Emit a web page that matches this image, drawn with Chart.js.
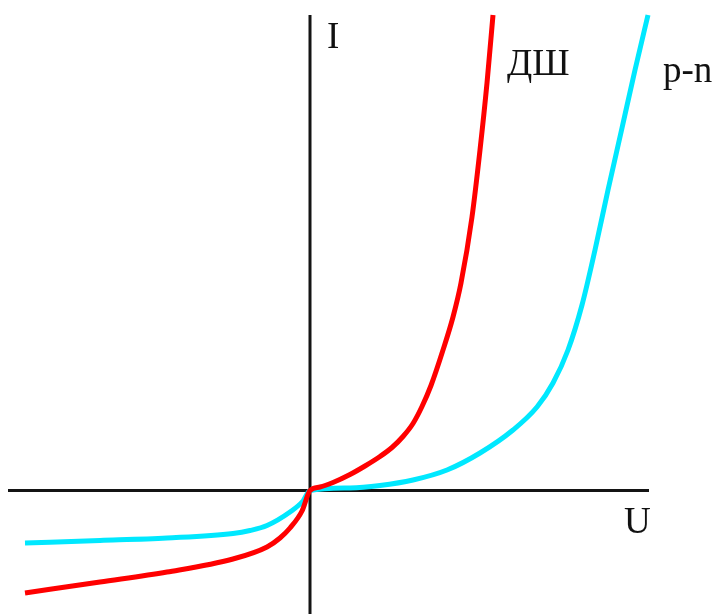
<!DOCTYPE html>
<html>
<head>
<meta charset="utf-8">
<title>ВАХ: диод Шоттки и p-n переход</title>
<script src="https://cdn.jsdelivr.net/npm/chart.js@4/dist/chart.umd.min.js"></script>
<style>
  html, body { margin: 0; padding: 0; background: #fff; }
  #wrap { width: 713px; height: 614px; }
</style>
</head>
<body>
<div id="wrap"><canvas id="ivChart" width="713" height="614"></canvas></div>
<script>
// Schottky diode (ДШ) I-V curve, arbitrary units
const schottkyU = [-2.85, -2.10, -1.43, -0.77, -0.43, -0.30, -0.20, -0.08, 0,
  0.10, 0.23, 0.40, 0.55, 0.70, 0.82, 0.93, 1.03, 1.12, 1.21, 1.33, 1.43, 1.51, 1.62, 1.70, 1.77, 1.83];
const schottkyI = [-1.025, -0.915, -0.815, -0.685, -0.565, -0.475, -0.375, -0.205, 0,
  0.035, 0.08, 0.16, 0.245, 0.34, 0.43, 0.54, 0.67, 0.84, 1.05, 1.405, 1.735, 2.075, 2.735, 3.405, 4.075, 4.755];

// p-n junction I-V curve
const pnU = [-2.85, -2.10, -1.43, -0.77, -0.60, -0.43, -0.20, -0.07, 0,
  0.40, 0.70, 1.03, 1.37, 1.70, 2.03, 2.27, 2.43, 2.58, 2.72, 2.85, 2.98, 3.12, 3.25, 3.38];
const pnI = [-0.525, -0.50, -0.475, -0.43, -0.40, -0.35, -0.215, -0.105, 0,
  0.025, 0.05, 0.105, 0.205, 0.375, 0.605, 0.835, 1.075, 1.405, 1.855, 2.405, 3.005, 3.625, 4.205, 4.755];

const seriesNames = ["ДШ", "p-n"];

const toPoints = (xs, ys) => xs.map((x, i) => ({ x: x, y: ys[i] }));

// axis extents and captions, in data units
const axisU = { from: -3.02, to: 3.39 };
const axisI = { from: -1.3, to: 4.755 };
const captions = [
  { text: "I", u: 0.17, i: 4.425 },
  { text: seriesNames[0], u: 1.97, i: 4.155 },
  { text: seriesNames[1], u: 3.53, i: 4.085 },
  { text: "U", u: 3.14, i: -0.425 },
];

// draws the crossing axes under the curves and the captions on top
const axesPlugin = {
  id: "crossAxes",
  beforeDatasetsDraw(chart) {
    const { ctx, scales } = chart;
    const x = scales.x, y = scales.y;
    ctx.save();
    ctx.strokeStyle = "#141414";
    ctx.lineWidth = 3;
    ctx.beginPath();
    ctx.moveTo(x.getPixelForValue(axisU.from), y.getPixelForValue(0));
    ctx.lineTo(x.getPixelForValue(axisU.to), y.getPixelForValue(0));
    ctx.moveTo(x.getPixelForValue(0), y.getPixelForValue(axisI.from));
    ctx.lineTo(x.getPixelForValue(0), y.getPixelForValue(axisI.to));
    ctx.stroke();
    ctx.restore();
  },
  afterDatasetsDraw(chart) {
    const { ctx, scales } = chart;
    ctx.save();
    ctx.fillStyle = "#111";
    ctx.font = "37px 'Liberation Serif', 'DejaVu Serif', serif";
    ctx.textBaseline = "alphabetic";
    captions.forEach((c) => {
      ctx.fillText(c.text, scales.x.getPixelForValue(c.u), scales.y.getPixelForValue(c.i));
    });
    ctx.restore();
  },
};

new Chart(document.getElementById("ivChart"), {
  type: "scatter",
  data: {
    datasets: [
      {
        label: seriesNames[0],
        data: toPoints(schottkyU, schottkyI),
        showLine: true,
        borderColor: "#ff0000",
        borderWidth: 5,
        pointRadius: 0,
        cubicInterpolationMode: "monotone",
      },
      {
        label: seriesNames[1],
        data: toPoints(pnU, pnI),
        showLine: true,
        borderColor: "#00e8ff",
        borderWidth: 5,
        pointRadius: 0,
        cubicInterpolationMode: "monotone",
      },
    ],
  },
  options: {
    responsive: false,
    animation: false,
    layout: { padding: 0 },
    plugins: { legend: { display: false }, tooltip: { enabled: false } },
    scales: {
      x: { type: "linear", min: -3.10, max: 4.03, display: false },
      y: { type: "linear", min: -1.235, max: 4.905, display: false },
    },
  },
  plugins: [axesPlugin],
});
</script>
</body>
</html>
